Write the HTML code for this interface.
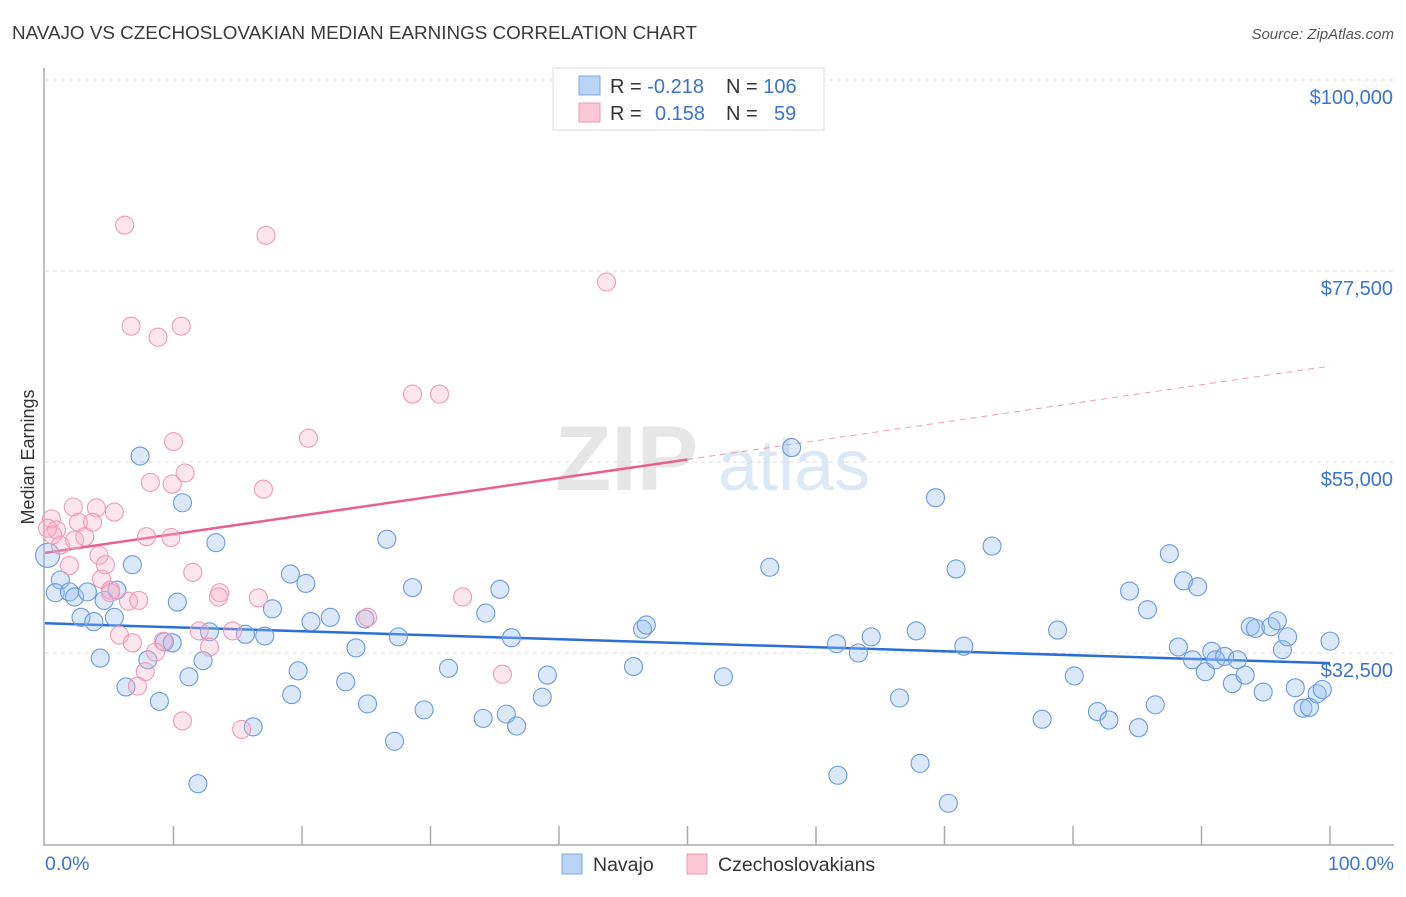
<!DOCTYPE html>
<html><head><meta charset="utf-8"><style>
body{margin:0;background:#fff;font-family:"Liberation Sans",sans-serif;}
svg text{font-family:"Liberation Sans",sans-serif;}
</style></head><body>
<svg id="chart" width="1406" height="892" xmlns="http://www.w3.org/2000/svg">
<text x="12" y="39" font-size="18.5" fill="#3a3a3a" textLength="685" lengthAdjust="spacingAndGlyphs">NAVAJO VS CZECHOSLOVAKIAN MEDIAN EARNINGS CORRELATION CHART</text>
<text x="1394" y="39" font-size="15" fill="#555" text-anchor="end" font-style="italic">Source: ZipAtlas.com</text>
<text x="555" y="490" font-size="92" fill="#e6e6e6" font-family="Liberation Serif" font-weight="bold">ZIP</text>
<text x="718" y="490" font-size="72" fill="#dde8f5">atlas</text>
<g id="grid"></g>
<g id="axes"></g>
<g id="lines"></g>
<g id="points"></g>
<text transform="translate(34,457) rotate(-90)" font-size="18" fill="#333" text-anchor="middle">Median Earnings</text>
<text x="45" y="870" font-size="19.5" fill="#3b73d0">0.0%</text>
<text x="1394" y="870" font-size="19.5" fill="#3b73d0" text-anchor="end">100.0%</text>
<g>
<rect x="553" y="68" width="271" height="62" fill="#fff" stroke="#ddd"/>
<rect x="579" y="76" width="21" height="19" fill="#b9d3f5" stroke="#7fa8e0"/>
<rect x="579" y="103" width="21" height="19" fill="#fbc7d6" stroke="#ec9ab3"/>
<text x="610" y="93" font-size="20" fill="#333">R = <tspan fill="#3b73d0">-0.218</tspan></text>
<text x="726" y="93" font-size="20" fill="#333">N = <tspan fill="#3b73d0">106</tspan></text>
<text x="610" y="120" font-size="20" fill="#333">R = </text>
<text x="655" y="120" font-size="20" fill="#3b73d0">0.158</text>
<text x="726" y="120" font-size="20" fill="#333">N = </text>
<text x="774" y="120" font-size="20" fill="#3b73d0">59</text>
</g>
<g><rect x="562" y="854" width="20" height="20" fill="#b9d3f5" stroke="#7fa8e0"/><text x="593" y="871" font-size="19.5" fill="#333">Navajo</text></g>
<g><rect x="687" y="854" width="20" height="20" fill="#fbc7d6" stroke="#ec9ab3"/><text x="718" y="871" font-size="19.5" fill="#333">Czechoslovakians</text></g>
</svg>
<script>
const yTicks=[100000,77500,55000,32500];
const yTickLabels=["$100,000","$77,500","$55,000","$32,500"];
const navajoX=[0.2,1.2,0.8,1.9,2.3,3.3,2.8,3.8,4.3,4.6,5.6,5.4,6.8,7.4,6.3,8.0,8.9,9.3,9.9,10.3,10.7,11.2,11.9,12.3,12.8,13.3,15.6,16.2,17.1,17.7,19.1,19.2,19.7,20.3,20.7,22.2,23.4,24.2,24.9,25.1,26.6,27.2,27.5,28.6,29.5,31.4,34.1,34.3,35.4,35.9,36.3,36.7,38.7,39.1,45.8,46.5,46.8,52.8,56.4,58.1,61.6,61.7,63.3,64.3,66.5,67.8,68.1,69.3,70.3,70.9,71.5,73.7,77.6,78.8,80.1,81.9,82.8,84.4,85.1,85.8,86.4,87.5,88.2,88.6,89.3,89.7,90.3,90.8,91.1,91.8,92.4,92.8,93.4,93.8,94.2,94.8,95.4,95.9,96.3,96.7,97.3,97.9,98.4,99.0,99.4,100];
const navajoY=[46.0,43.1,41.6,41.7,41.1,41.7,38.7,38.2,33.9,40.7,41.9,38.7,44.9,57.7,30.5,33.7,28.8,35.8,35.7,40.5,52.2,31.7,19.1,33.6,37.0,47.5,36.7,25.8,36.5,39.7,43.8,29.6,32.4,42.7,38.2,38.7,31.1,35.1,38.5,28.5,47.9,24.1,36.4,42.2,27.8,32.7,26.8,39.2,42.0,27.3,36.3,25.9,29.3,31.9,32.9,37.3,37.8,31.7,44.6,58.7,35.6,20.1,34.5,36.4,29.2,37.1,21.5,52.8,16.8,44.4,35.3,47.1,26.7,37.2,31.8,27.6,26.6,41.8,25.7,39.6,28.4,46.2,35.2,43.0,33.7,42.3,32.3,34.7,33.7,34.1,30.9,33.7,31.9,37.6,37.4,29.9,37.6,38.3,34.9,36.4,30.4,28.0,28.1,29.7,30.2,35.9];
const czechX=[6.2,17.2,43.7,6.7,10.6,8.8,28.6,30.7,10.0,20.5,10.9,8.2,9.9,17.0,0.5,2.2,4.0,5.4,2.6,3.7,0.9,1.2,2.3,3.1,7.9,9.8,4.2,1.9,4.7,11.5,4.4,13.6,13.5,16.6,5.1,6.5,7.3,32.5,25.1,12.0,14.6,5.8,6.8,9.2,12.8,8.6,7.8,35.6,7.2,10.7,15.3,0.2,0.6,5.1];
const czechY=[84.9,83.7,78.2,73.0,73.0,71.7,65.0,65.0,59.4,59.8,55.7,54.6,54.4,53.8,50.3,51.7,51.6,51.1,49.9,49.9,49.0,47.2,47.8,48.2,48.2,48.1,46.0,44.8,44.9,44.0,43.2,41.6,41.1,41.0,41.9,40.6,40.7,41.1,38.7,37.1,37.1,36.6,35.7,35.9,35.2,34.6,32.3,32.0,30.6,26.5,25.5,49.2,48.4,41.6];
const navajoTrend=[38.0,33.3];
const czechTrend=[46.3,68.3];
const NS='http://www.w3.org/2000/svg';
function xs(p){return 45+p*12.85;}
function ys(v){return 80+(100-v)*191/22.5;}
function ysPx(v){return ys(v-2.0);}
function mk(tag,attrs,parent){const e=document.createElementNS(NS,tag);for(const k in attrs)e.setAttribute(k,attrs[k]);document.getElementById(parent).appendChild(e);return e;}
yTicks.forEach((t,i)=>{
  const y=ys(t/1000);
  const g=mk('line',{x1:45,x2:1394,y1:y,y2:y,stroke:'#dcdcdc','stroke-dasharray':'4,4'},'grid');
  
  
  const tx=mk('text',{x:1393,y:y+24,'font-size':20,fill:'#3b73d0','text-anchor':'end'},'grid');
  tx.textContent=yTickLabels[i];
  
  
});
const ax=mk('path',{d:'M44,68 V845 H1394',fill:'none',stroke:'#aaa','stroke-width':1.5},'axes');


for(let i=1;i<=10;i++){
  const t=mk('line',{x1:xs(i*10),x2:xs(i*10),y1:826,y2:845,stroke:'#aaa','stroke-width':1.5},'axes');
  
  
}
function dot(x,v,fill,stroke,name,r){
  const c=mk('circle',{cx:xs(x),cy:ysPx(v),r:r||9,fill:fill,stroke:stroke,'stroke-width':1.1},'points');
  
  
}
navajoX.forEach((x,i)=>dot(x,navajoY[i],'rgba(150,190,240,0.35)','#6a9ae0','navajo-point',i===0?12:9));
czechX.forEach((x,i)=>dot(x,czechY[i],'rgba(248,175,198,0.32)','#ef9ab6','czech-point'));
const bl=mk('line',{x1:xs(0),y1:ysPx(navajoTrend[0]),x2:xs(100),y2:ysPx(navajoTrend[1]),stroke:'#2a6fd6','stroke-width':2.5},'lines');


const mid=czechTrend[0]+(czechTrend[1]-czechTrend[0])*0.5;
const pl=mk('line',{x1:xs(0),y1:ysPx(czechTrend[0]),x2:xs(50),y2:ysPx(mid),stroke:'#e8608e','stroke-width':2.5},'lines');


const pd=mk('line',{x1:xs(50),y1:ysPx(mid),x2:xs(100),y2:ysPx(czechTrend[1]),stroke:'#e8a0b8','stroke-width':1,'stroke-dasharray':'6,5'},'lines');


</script>
</body></html>
